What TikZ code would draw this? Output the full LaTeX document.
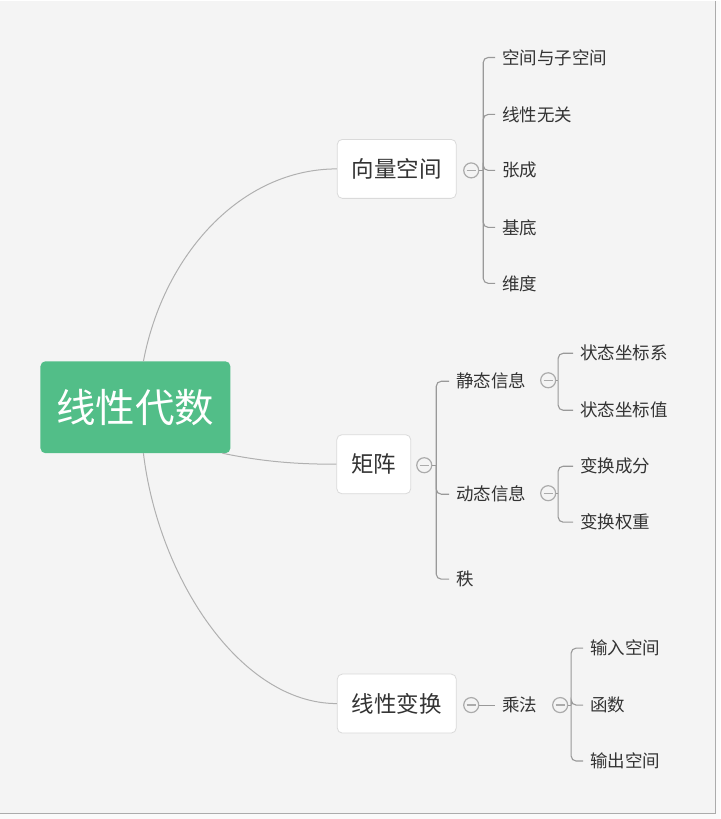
\documentclass[tikz,border=0pt]{standalone}
\usepackage{fontspec}
\newfontfamily\cjk{Noto Sans CJK SC}
\definecolor{bg}{HTML}{F4F4F4}
\definecolor{outerbg}{HTML}{FAFAFA}
\definecolor{rootgreen}{HTML}{52BE88}
\definecolor{txt}{HTML}{333333}
\definecolor{curvegray}{HTML}{B0B0B0}
\definecolor{brgray}{HTML}{999999}
\definecolor{boxgray}{HTML}{DADADA}
\definecolor{foldgray}{HTML}{ABABAB}
\tikzset{
  rootbox/.style={fill=rootgreen, rounded corners=5pt, minimum width=190pt, minimum height=92pt,
    text=white, font=\cjk\fontsize{39.5}{41}\selectfont, inner sep=0pt},
  topicbox/.style={draw=boxgray, line width=0.8pt, fill=white, rounded corners=5pt, minimum height=59pt,
    inner xsep=14.5pt, text=txt, font=\cjk\fontsize{22.5}{24}\selectfont},
  leaf/.style={anchor=west, inner sep=0pt, text=txt, font=\cjk\fontsize{17.5}{19}\selectfont},
  fold/.style={circle, draw=foldgray, line width=1.2pt, fill=bg, minimum size=15pt, inner sep=0pt,
    path picture={\draw[foldgray, line width=1.2pt] ([xshift=-4.5pt]path picture bounding box.center) -- ([xshift=4.5pt]path picture bounding box.center);}},
  mainlink/.style={draw=curvegray, line width=1pt},
  brlink/.style={draw=brgray, line width=1.1pt, rounded corners=5pt},
}
\begin{document}
\begin{tikzpicture}[x=1pt, y=-1pt]
\fill[outerbg] (0,0) rectangle (720,819);
\fill[bg] (0,0) rectangle (715,813);
\draw[foldgray, line width=1pt] (715.5,0) -- (715.5,813.5) -- (0,813.5);
\useasboundingbox (0,0) rectangle (720,819);

% root
\node[rootbox] (root) at (135,407) {线性代数};
\coordinate (rtop) at (143,361);
\coordinate (rbot) at (143,453);
\coordinate (rmid) at (222,453);

% level 1
\node[topicbox] (vs) at (396.5,168.5) {向量空间};
\node[topicbox] (mx) at (373.5,464) {矩阵};
\node[topicbox] (lt) at (396.5,703.5) {线性变换};

\draw[mainlink] (rtop) .. controls (163,255) and (240,168.5) .. (vs.west);
\draw[mainlink] (rmid) .. controls (265,462) and (300,464) .. (mx.west);
\draw[mainlink] (rbot) .. controls (158,578) and (240,703.5) .. (lt.west);

% ---- 向量空间 branch
\node[fold] (f1) at (471,170) {};
\coordinate (b1) at (483,170);
\node[leaf] (a1) at (502,57) {空间与子空间};
\node[leaf] (a2) at (502,114) {线性无关};
\node[leaf] (a3) at (502,170) {张成};
\node[leaf] (a4) at (502,227) {基底};
\node[leaf] (a5) at (502,283) {维度};
\draw[brlink] (f1.east) -- (b1);
\foreach \c in {a1,a2,a3,a4,a5}{\draw[brlink] (b1) |- ([xshift=-7pt]\c.west);}

% ---- 矩阵 branch
\node[fold] (f2) at (424,465) {};
\coordinate (b2) at (436,465);
\node[leaf] (m1) at (456,381) {静态信息};
\node[leaf] (m2) at (456,494) {动态信息};
\node[leaf] (m3) at (456,579) {秩};
\draw[brlink] (f2.east) -- (b2);
\foreach \c in {m1,m2,m3}{\draw[brlink] (b2) |- ([xshift=-7pt]\c.west);}

\node[fold] (f3) at (548,380) {};
\coordinate (b3) at (558,380);
\node[leaf] (s1) at (580,353) {状态坐标系};
\node[leaf] (s2) at (580,410) {状态坐标值};
\draw[brlink] (f3.east) -- (b3);
\foreach \c in {s1,s2}{\draw[brlink] (b3) |- ([xshift=-7pt]\c.west);}

\node[fold] (f4) at (548,493) {};
\coordinate (b4) at (558,493);
\node[leaf] (d1) at (580,466) {变换成分};
\node[leaf] (d2) at (580,522) {变换权重};
\draw[brlink] (f4.east) -- (b4);
\foreach \c in {d1,d2}{\draw[brlink] (b4) |- ([xshift=-7pt]\c.west);}

% ---- 线性变换 branch
\node[fold] (f5) at (471,705) {};
\node[leaf] (t1) at (502,705) {乘法};
\draw[brlink] (f5.east) -- ([xshift=-7pt]t1.west);

\node[fold] (f6) at (560,705) {};
\coordinate (b6) at (571,705);
\node[leaf] (u1) at (590,648) {输入空间};
\node[leaf] (u2) at (590,705) {函数};
\node[leaf] (u3) at (590,761) {输出空间};
\draw[brlink] (f6.east) -- (b6);
\foreach \c in {u1,u2,u3}{\draw[brlink] (b6) |- ([xshift=-7pt]\c.west);}
\end{tikzpicture}
\end{document}
